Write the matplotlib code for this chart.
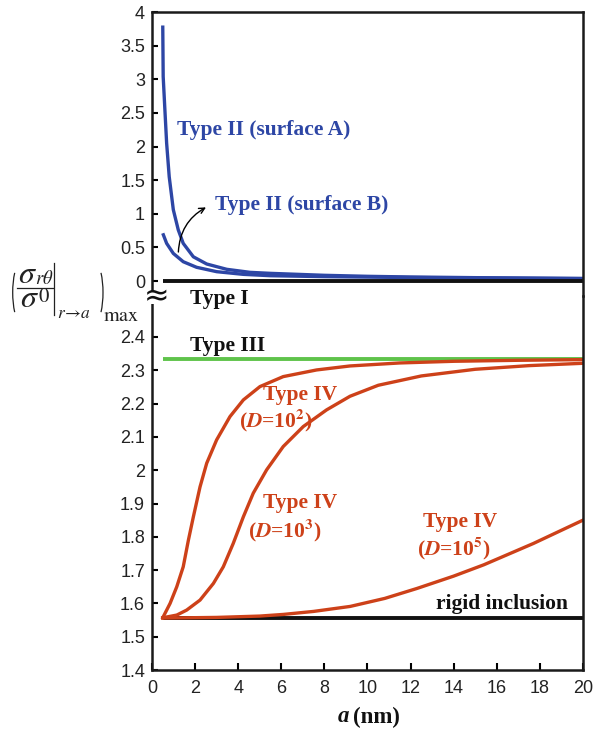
import numpy as np
import matplotlib
matplotlib.use("Agg")
import matplotlib.pyplot as plt
from matplotlib.patches import Rectangle, Arc
from matplotlib.lines import Line2D

plt.rcParams['mathtext.fontset'] = 'stix'
plt.rcParams['font.family'] = ['Liberation Sans', 'DejaVu Sans']

# values
a_surf_a = [0.5, 0.52, 0.6, 0.68, 0.8, 0.99, 1.22, 1.45, 1.92, 2.54, 3.47, 4.55, 5.5, 8.0, 10.0, 12.0, 15.0, 20.0]
s_surf_a = [3.8, 3.04, 2.54, 2.05, 1.55, 1.06, 0.76, 0.56, 0.36, 0.253, 0.174, 0.129, 0.114, 0.085, 0.07, 0.06, 0.05, 0.038]
a_surf_b = [0.5, 0.68, 0.99, 1.45, 2.07, 3.0, 4.24, 5.5, 8.0, 10.0, 12.0, 15.0, 20.0]
s_surf_b = [0.71, 0.56, 0.41, 0.287, 0.204, 0.139, 0.099, 0.079, 0.065, 0.058, 0.052, 0.045, 0.036]

a_line = [0.5, 20.0]
type1 = [0.0, 0.0]
type3 = [2.333, 2.333]
rigid = [1.555, 1.555]

a_d2 = [0.5, 0.84, 1.15, 1.45, 1.69, 1.92, 2.23, 2.54, 3.0, 3.62, 4.24, 5.01, 6.09, 7.64, 9.19, 11.5, 14.0, 17.0, 20.0]
s_d2 = [1.557, 1.60, 1.65, 1.71, 1.79, 1.86, 1.95, 2.021, 2.091, 2.161, 2.211, 2.251, 2.281, 2.301, 2.313, 2.322, 2.327, 2.330, 2.332]
a_d3 = [0.5, 1.15, 1.61, 2.23, 2.85, 3.31, 3.77, 4.24, 4.70, 5.32, 6.09, 7.02, 8.1, 9.19, 10.5, 12.5, 15.0, 17.5, 20.0]
s_d3 = [1.557, 1.565, 1.58, 1.61, 1.66, 1.71, 1.78, 1.86, 1.931, 2.001, 2.071, 2.131, 2.181, 2.222, 2.255, 2.283, 2.303, 2.314, 2.321]
a_d5 = [0.5, 3.0, 5.0, 6.1, 7.5, 9.2, 10.8, 12.3, 14.0, 15.4, 17.7, 20.0]
s_d5 = [1.556, 1.558, 1.562, 1.567, 1.576, 1.591, 1.615, 1.645, 1.682, 1.716, 1.78, 1.85]

blue = '#2d46a5'
red = '#cd4119'
green = '#5fc34b'
ink = '#222222'
serif = ['Liberation Serif', 'DejaVu Serif']

W, H = 600, 738
fig = plt.figure(figsize=(6, 7.38), dpi=100)
ax_top = fig.add_axes([0.2533, 0.5989, 0.7183, 0.3848])
ax_bot = fig.add_axes([0.2533, 0.0921, 0.7183, 0.5068])


def fx(px):
    return px / W


def fy(py):
    return 1 - py / H


for ax in (ax_top, ax_bot):
    ax.set_xlim(0, 20)
    ax.patch.set_visible(False)
    for s in ax.spines.values():
        s.set_linewidth(1.8)
        s.set_color('#1a1a1a')
    ax.tick_params(direction='in', width=1.5, length=4, labelsize=13, pad=5,
                   labelcolor=ink, right=False, top=False)
ax_top.spines['bottom'].set_visible(False)
ax_bot.spines['top'].set_visible(False)

# top part
ax_top.plot(a_surf_a, s_surf_a, color=blue, lw=2.4, solid_capstyle='butt')
ax_top.plot(a_surf_b, s_surf_b, color=blue, lw=2.4, solid_capstyle='butt')
ax_top.plot(a_line, type1, color='#111111', lw=2.8, solid_capstyle='butt')
ax_top.set_ylim(-0.223, 4)
ax_top.set_yticks(np.arange(0, 4.01, 0.5))
ax_top.set_yticklabels(['0', '0.5', '1', '1.5', '2', '2.5', '3', '3.5', '4'])
ax_top.tick_params(bottom=False, labelbottom=False)

lab = dict(fontsize=15.5, fontweight='bold', family=serif, va='center')
ax_top.text(1.16, 2.245, 'Type II (surface A)', color=blue, **lab)
ax_top.text(2.92, 1.13, 'Type II (surface B)', color=blue, **lab)
ax_top.annotate('', xy=(2.62, 1.115), xytext=(1.22, 0.39),
                arrowprops=dict(arrowstyle='->', color='black', lw=1.0,
                                connectionstyle='arc3,rad=-0.3'))
ax_top.text(1.76, -0.268, 'Type I', color='#111111', **lab)

# bottom part
ax_bot.plot(a_line, type3, color=green, lw=2.8, solid_capstyle='butt')
ax_bot.plot(a_line, rigid, color='#111111', lw=2.8, solid_capstyle='butt')
ax_bot.plot(a_d2, s_d2, color=red, lw=2.4)
ax_bot.plot(a_d3, s_d3, color=red, lw=2.4)
ax_bot.plot(a_d5, s_d5, color=red, lw=2.4)
ax_bot.set_ylim(1.4, 2.523)
ax_bot.set_yticks(np.arange(1.4, 2.41, 0.1))
ax_bot.set_yticklabels(['1.4', '1.5', '1.6', '1.7', '1.8', '1.9', '2', '2.1', '2.2', '2.3', '2.4'])
ax_bot.set_xticks(np.arange(0, 20.1, 2))
ax_bot.tick_params(axis='x', length=5, pad=7)

ax_bot.text(1.76, 2.373, 'Type III', color='#111111', **lab)
ax_bot.text(5.15, 2.226, 'Type IV', color=red, **lab)
ax_bot.text(4.05, 2.151, r'($\mathbfit{D}$=10$^{\mathbf{2}}$)', color=red, **lab)
ax_bot.text(5.15, 1.902, 'Type IV', color=red, **lab)
ax_bot.text(4.45, 1.820, r'($\mathbfit{D}$=10$^{\mathbf{3}}$)', color=red, **lab)
ax_bot.text(12.58, 1.845, 'Type IV', color=red, **lab)
ax_bot.text(12.3, 1.766, r'($\mathbfit{D}$=10$^{\mathbf{5}}$)', color=red, **lab)
ax_bot.text(13.2, 1.597, 'rigid inclusion', color='#111111', **lab)

# axis break mark on the left spine
fig.patches.append(Rectangle((fx(149), fy(304)), 7 / W, 13 / H,
                             transform=fig.transFigure, facecolor='white',
                             edgecolor='none', zorder=5))
fig.text(fx(157), fy(297), '\u2248', fontsize=22, ha='center', va='center',
         family=['DejaVu Sans'], color='#111111', zorder=6)

# y label, put together piece by piece: ( sigma_rtheta / sigma^0 |_{r->a} )_max
def ylab_piece(px, py, s, size):
    fig.text(fx(px), fy(py), s, fontsize=size, ha='left', va='baseline', color=ink)


ylab_piece(18, 283, r'$\sigma$', 23)
ylab_piece(35, 283.5, r'$r\theta$', 13.5)
ylab_piece(20, 307, r'$\sigma$', 23)
ylab_piece(37.5, 302, r'$0$', 15)
ylab_piece(57, 317.5, r'$r\!\rightarrow\! a$', 12.5)
ylab_piece(103, 321, r'$\mathrm{max}$', 14.5)
fig.lines.append(Line2D([fx(17), fx(53)], [fy(287.7), fy(287.7)],
                        transform=fig.transFigure, color=ink, lw=0.9))
fig.lines.append(Line2D([fx(54.3), fx(54.3)], [fy(263), fy(315)],
                        transform=fig.transFigure, color=ink, lw=0.9))
fig.patches.append(Arc((fx(23.2), fy(292.5)), 21 / W, 66.8 / H, theta1=118, theta2=242,
                       transform=fig.transFigure, color=ink, lw=0.9))
fig.patches.append(Arc((fx(92.5), fy(292.5)), 21 / W, 66.8 / H, theta1=-62, theta2=62,
                       transform=fig.transFigure, color=ink, lw=0.9))

# x label
fig.text(fx(349), fy(717), 'a', fontsize=16.5, fontweight='bold', style='italic',
         family=serif, ha='right', va='center', color='#111111')
fig.text(fx(353), fy(717), '(nm)', fontsize=16.5, fontweight='bold',
         family=serif, ha='left', va='center', color='#111111')

fig.savefig('out.png', dpi=100)
